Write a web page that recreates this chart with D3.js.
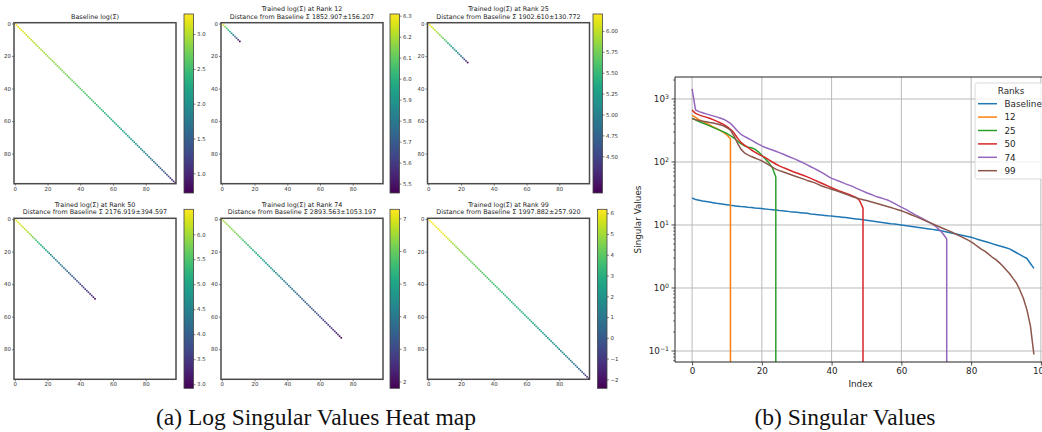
<!DOCTYPE html>
<html>
<head>
<meta charset="utf-8">
<script src="https://cdn.jsdelivr.net/npm/d3@7"></script>
<style>
  body { margin: 0; background: #fff; }
  svg { display: block; }
</style>
</head>
<body>
<svg id="fig" width="1042" height="432"></svg>
<script>
// ---- singular values per training setup (index 0 .. n-1) ----
const baseline = [26.8, 25.3, 24.7, 24.1, 23.6, 23.1, 22.6, 22.1, 21.7, 21.3,
  20.9, 20.5, 20.2, 19.9, 19.6, 19.4, 19.1, 18.9, 18.6, 18.4,
  18.2, 17.9, 17.7, 17.5, 17.3, 17.0, 16.8, 16.6, 16.3, 16.1,
  15.9, 15.7, 15.5, 15.3, 15.0, 14.8, 14.6, 14.4, 14.2, 14.0,
  13.9, 13.7, 13.5, 13.3, 13.1, 12.9, 12.7, 12.5, 12.3, 12.1,
  11.9, 11.7, 11.5, 11.3, 11.1, 10.9, 10.7, 10.5, 10.35, 10.2,
  10.0, 9.83, 9.66, 9.49, 9.32, 9.15, 8.99, 8.83, 8.67, 8.52,
  8.36, 8.15, 7.93, 7.72, 7.51, 7.31, 7.11, 6.92, 6.73, 6.55,
  6.37, 6.13, 5.90, 5.68, 5.47, 5.26, 5.06, 4.87, 4.69, 4.51,
  4.34, 4.18, 3.90, 3.63, 3.38, 3.15, 2.94, 2.45, 2.05];

const rank12 = [549, 510, 472, 440, 412, 386, 362, 340, 318, 295, 268, 234];

const rank25 = [494, 465, 440, 415, 395, 375, 355, 335, 318, 300,
  283, 262, 240, 215, 195, 180, 172, 168, 160, 145,
  128, 112, 97, 82, 58];

const rank50 = [665, 590, 560, 535, 515, 495, 470, 445, 420, 395,
  365, 330, 290, 240, 205, 185, 170, 155, 143, 133,
  125, 117, 108, 100, 93, 87, 82, 78, 74, 70,
  67, 64, 61, 58, 55, 52, 49, 46.5, 44, 41.5,
  39, 37, 35, 33.5, 32, 30.5, 29, 27.5, 24.5, 18.5];

const rank74 = [1450, 668, 630, 605, 580, 560, 540, 520, 500, 478,
  445, 410, 360, 310, 275, 255, 238, 222, 206, 192,
  180, 170, 162, 155, 148, 141, 134, 127, 120, 114,
  108, 102, 96, 90, 84, 79, 74, 69, 64, 59,
  55, 52.5, 50, 47.5, 45, 43, 41, 38.5, 36.5, 34.5,
  32.5, 31, 29.5, 28, 27, 26, 25, 23.5, 22, 20.5,
  19.2, 18, 16.8, 15.6, 14.5, 13.6, 12.7, 11.8, 11, 10.2,
  9.3, 8.3, 7.2, 6.0];

const rank99 = [488, 470, 455, 445, 435, 425, 415, 405, 390, 375,
  350, 320, 260, 200, 160, 140, 130, 122, 116, 110,
  104, 97, 90, 83, 77, 73, 70, 67, 64, 61,
  58.5, 56, 53.5, 51, 49, 47, 44.5, 42, 40, 38.5,
  37, 35.5, 34, 32.5, 31, 29.5, 28, 27, 26, 25.2,
  24.4, 23.6, 22.8, 22, 21.2, 20.4, 19.6, 18.9, 18.2, 17.5,
  16.8, 16.0, 15.2, 14.4, 13.7, 13.0, 12.3, 11.6, 11.0, 10.4,
  9.8, 9.3, 8.8, 8.35, 7.9, 7.45, 7.0, 6.6, 6.2, 5.8,
  5.4, 4.95, 4.5, 4.1, 3.8, 3.45, 3.1, 2.85, 2.55, 2.25,
  1.95, 1.7, 1.42, 1.2, 0.92, 0.68, 0.45, 0.25, 0.088];

const rankNames = ["Baseline", "12", "25", "50", "74", "99"];
const distMean = [null, 1852.907, 1902.610, 2176.919, 2893.563, 1997.882];
const distStd  = [null, 156.207, 130.772, 394.597, 1053.197, 257.920];

// tick labels
const heatTicks = ["0", "20", "40", "60", "80"];
const colorbarTicks = [
  ["1.0", "1.5", "2.0", "2.5", "3.0"],
  ["5.5", "5.6", "5.7", "5.8", "5.9", "6.0", "6.1", "6.2", "6.3"],
  ["4.50", "4.75", "5.00", "5.25", "5.50", "5.75", "6.00"],
  ["3.0", "3.5", "4.0", "4.5", "5.0", "5.5", "6.0"],
  ["2", "3", "4", "5", "6", "7"],
  ["−2", "−1", "0", "1", "2", "3", "4", "5", "6"]
];
const lineXTicks = ["0", "20", "40", "60", "80", "100"];
const lineYExponents = ["−1", "0", "1", "2", "3"];

const seriesList = [baseline, rank12, rank25, rank50, rank74, rank99];
const lineColors = ["#1f77b4", "#ff7f0e", "#2ca02c", "#d62728", "#9467bd", "#8c564b"];

const num = s => +s.replace("−", "-");
const SANS = "DejaVu Sans, Verdana, sans-serif";
const SERIF = "Liberation Serif, Times New Roman, serif";
const svg = d3.select("#fig");
const defs = svg.append("defs");

// ---------------- (a) heat maps ----------------
const N = 99;
const heatBoxes = [
  { x: 14,    y: 22.7,  w: 162, h: 161, cbx: 184,   cby: 14 },
  { x: 221,   y: 22.7,  w: 162, h: 161, cbx: 390,   cby: 14 },
  { x: 427.5, y: 22.7,  w: 162, h: 161, cbx: 593,   cby: 14 },
  { x: 14,    y: 218.3, w: 162, h: 161, cbx: 184,   cby: 209.3 },
  { x: 221,   y: 218.3, w: 162, h: 161, cbx: 390,   cby: 209.3 },
  { x: 427.5, y: 218.3, w: 162, h: 161, cbx: 597.5, cby: 209.3 }
];
const cbW = 9.5, cbH = 179;

// viridis gradient for the colour bars
const grad = defs.append("linearGradient").attr("id", "viridisBar")
  .attr("x1", 0).attr("y1", 1).attr("x2", 0).attr("y2", 0);
d3.range(0, 1.0001, 0.05).forEach(t => {
  grad.append("stop").attr("offset", t).attr("stop-color", d3.interpolateViridis(t));
});

seriesList.forEach((vals, k) => {
  const b = heatBoxes[k];
  const g = svg.append("g");
  const xs = d3.scaleLinear().domain([-0.5, N - 0.5]).range([b.x, b.x + b.w]);
  const ys = d3.scaleLinear().domain([-0.5, N - 0.5]).range([b.y, b.y + b.h]);
  const logs = vals.map(Math.log);
  const ext = d3.extent(logs);
  const color = d3.scaleSequential(d3.interpolateViridis).domain(ext);

  // diagonal cells (all other cells are empty)
  g.selectAll("rect.cell").data(logs).join("rect")
    .attr("class", "cell")
    .attr("x", (d, i) => xs(i - 0.5))
    .attr("y", (d, i) => ys(i - 0.5))
    .attr("width", xs(0.5) - xs(-0.5))
    .attr("height", ys(0.5) - ys(-0.5))
    .attr("fill", d => color(d));

  const tickVals = heatTicks.map(num);
  const xa = g.append("g").attr("transform", `translate(0,${b.y + b.h})`)
    .call(d3.axisBottom(xs).tickValues(tickVals).tickFormat((d, i) => heatTicks[i])
      .tickSize(2).tickPadding(1.2));
  const ya = g.append("g").attr("transform", `translate(${b.x},0)`)
    .call(d3.axisLeft(ys).tickValues(tickVals).tickFormat((d, i) => heatTicks[i])
      .tickSize(2).tickPadding(1.2));
  [xa, ya].forEach(a => {
    a.select(".domain").remove();
    a.selectAll("line").attr("stroke", "#333").attr("stroke-width", 0.6);
    a.selectAll("text").attr("font-family", SANS).attr("font-size", 5.4).attr("fill", "#333");
  });

  g.append("rect").attr("x", b.x).attr("y", b.y).attr("width", b.w).attr("height", b.h)
    .attr("fill", "none").attr("stroke", "#4a4a4a").attr("stroke-width", 1.5);

  // titles
  const cx = b.x + b.w / 2;
  const lines = k === 0
    ? ["Baseline log(Σ)"]
    : ["Trained log(Σ) at Rank " + rankNames[k],
       "Distance from Baseline Σ " + distMean[k].toFixed(3) + "±" + distStd[k].toFixed(3)];
  const lastY = b.y - 4;
  lines.forEach((t, j) => {
    g.append("text").attr("x", cx).attr("y", lastY - (lines.length - 1 - j) * 7.7)
      .attr("text-anchor", "middle").attr("font-family", SANS).attr("font-size", 6.4)
      .attr("fill", "#222").text(t);
  });

  // colour bar
  const cs = d3.scaleLinear().domain(ext).range([b.cby + cbH, b.cby]);
  g.append("rect").attr("x", b.cbx).attr("y", b.cby).attr("width", cbW).attr("height", cbH)
    .attr("fill", "url(#viridisBar)").attr("stroke", "#444").attr("stroke-width", 0.8);
  const cbLabels = colorbarTicks[k];
  const ca = g.append("g").attr("transform", `translate(${b.cbx + cbW},0)`)
    .call(d3.axisRight(cs).tickValues(cbLabels.map(num)).tickFormat((d, i) => cbLabels[i])
      .tickSize(2).tickPadding(1.5));
  ca.select(".domain").remove();
  ca.selectAll("line").attr("stroke", "#333").attr("stroke-width", 0.6);
  ca.selectAll("text").attr("font-family", SANS).attr("font-size", 5.4).attr("fill", "#333");
});

// ---------------- (b) singular value curves ----------------
const ax = { left: 675, right: 1051, top: 77, bottom: 362 };
const x = d3.scaleLinear().domain([-4.9, 102.9]).range([ax.left, ax.right]);
const y = d3.scaleLog().domain([0.0669, 2234]).range([ax.bottom, ax.top]);

const chart = svg.append("g");
defs.append("clipPath").attr("id", "plotClip").append("rect")
  .attr("x", ax.left).attr("y", ax.top)
  .attr("width", ax.right - ax.left).attr("height", ax.bottom - ax.top);

const xTickVals = lineXTicks.map(num);
const yTickVals = lineYExponents.map(e => Math.pow(10, num(e)));

// grid
chart.append("g").selectAll("line").data(xTickVals).join("line")
  .attr("x1", d => x(d)).attr("x2", d => x(d)).attr("y1", ax.top).attr("y2", ax.bottom)
  .attr("stroke", "#b9b9b9").attr("stroke-width", 1);
chart.append("g").selectAll("line").data(yTickVals).join("line")
  .attr("x1", ax.left).attr("x2", ax.right).attr("y1", d => y(d)).attr("y2", d => y(d))
  .attr("stroke", "#b9b9b9").attr("stroke-width", 1);

// curves; truncated ranks fall off the bottom after their last non-zero value
const line = d3.line().x(d => x(d[0])).y(d => d[1] === null ? ax.bottom + 20 : y(d[1]));
const curves = chart.append("g").attr("clip-path", "url(#plotClip)");
seriesList.forEach((vals, k) => {
  const pts = vals.map((v, i) => [i, v]);
  if (vals.length < N) pts.push([vals.length - 1, null]);
  curves.append("path").datum(pts).attr("d", line)
    .attr("fill", "none").attr("stroke", lineColors[k]).attr("stroke-width", 1.5)
    .attr("stroke-linejoin", "round");
});

// spines
chart.append("path")
  .attr("d", `M${ax.left},${ax.top}H${ax.right}M${ax.left},${ax.top}V${ax.bottom}H${ax.right}`)
  .attr("fill", "none").attr("stroke", "#222").attr("stroke-width", 1);

// x ticks
const xg = chart.append("g").attr("transform", `translate(0,${ax.bottom})`)
  .call(d3.axisBottom(x).tickValues(xTickVals).tickFormat((d, i) => lineXTicks[i])
    .tickSize(3.5).tickPadding(2.5));
xg.select(".domain").remove();
xg.selectAll("line").attr("stroke", "#222").attr("stroke-width", 0.8);
xg.selectAll("text").attr("font-family", SANS).attr("font-size", 8.8).attr("fill", "#262626");

// y ticks (major with superscript labels, minor without)
const minor = [];
for (let e = -2; e <= 3; e++) for (let m = 2; m <= 9; m++) {
  const v = m * Math.pow(10, e);
  if (v > y.domain()[0] && v < y.domain()[1]) minor.push(v);
}
chart.append("g").selectAll("line").data(minor).join("line")
  .attr("x1", ax.left - 2).attr("x2", ax.left).attr("y1", d => y(d)).attr("y2", d => y(d))
  .attr("stroke", "#222").attr("stroke-width", 0.6);
chart.append("g").selectAll("line").data(yTickVals).join("line")
  .attr("x1", ax.left - 3.5).attr("x2", ax.left).attr("y1", d => y(d)).attr("y2", d => y(d))
  .attr("stroke", "#222").attr("stroke-width", 0.8);
const yl = chart.append("g").selectAll("text").data(yTickVals).join("text")
  .attr("x", ax.left - 6).attr("y", d => y(d) + 3.2)
  .attr("text-anchor", "end").attr("font-family", SANS).attr("font-size", 8.8).attr("fill", "#262626");
yl.append("tspan").text("10");
yl.append("tspan").attr("dy", -3.6).attr("font-size", 6.2).text((d, i) => lineYExponents[i]);

// axis titles
chart.append("text").attr("x", (ax.left + 1042) / 2 + 2).attr("y", 387)
  .attr("text-anchor", "middle").attr("font-family", SANS).attr("font-size", 8.8)
  .attr("fill", "#262626").text("Index");
chart.append("text").attr("transform", `translate(641,${(ax.top + ax.bottom) / 2}) rotate(-90)`)
  .attr("text-anchor", "middle").attr("font-family", SANS).attr("font-size", 8.8)
  .attr("fill", "#262626").text("Singular Values");

// legend
const lg = chart.append("g").attr("transform", "translate(975,83)");
lg.append("rect").attr("width", 74).attr("height", 96).attr("rx", 2.5)
  .attr("fill", "#fff").attr("fill-opacity", 0.8).attr("stroke", "#d0d0d0").attr("stroke-width", 0.8);
lg.append("text").attr("x", 36).attr("y", 10.8).attr("text-anchor", "middle")
  .attr("font-family", SANS).attr("font-size", 8.8).attr("fill", "#262626").text("Ranks");
rankNames.forEach((nm, k) => {
  const ry = 20.7 + k * 13.4;
  lg.append("line").attr("x1", 3).attr("x2", 22).attr("y1", ry).attr("y2", ry)
    .attr("stroke", lineColors[k]).attr("stroke-width", 1.5);
  lg.append("text").attr("x", 29.5).attr("y", ry + 3.2)
    .attr("font-family", SANS).attr("font-size", 8.8).attr("fill", "#262626").text(nm);
});

// ---------------- captions ----------------
svg.append("text").attr("x", 316).attr("y", 425).attr("text-anchor", "middle")
  .attr("font-family", SERIF).attr("font-size", 23.5).attr("fill", "#111")
  .text("(a) Log Singular Values Heat map");
svg.append("text").attr("x", 845).attr("y", 425).attr("text-anchor", "middle")
  .attr("font-family", SERIF).attr("font-size", 23.5).attr("fill", "#111")
  .text("(b) Singular Values");
</script>
</body>
</html>
